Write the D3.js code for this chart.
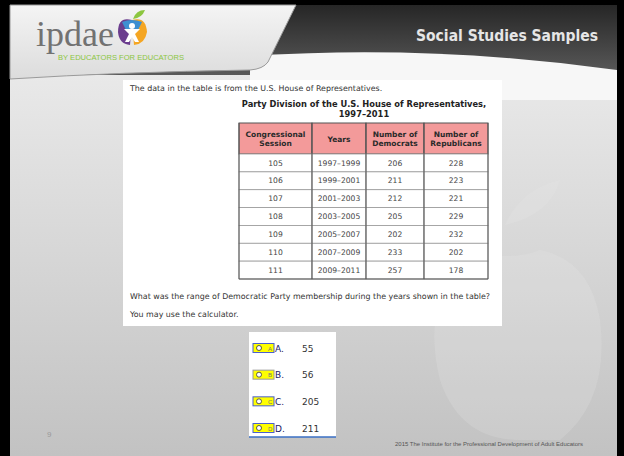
<!DOCTYPE html>
<html>
<head>
<meta charset="utf-8">
<script src="https://cdn.jsdelivr.net/npm/d3@7"></script>
<style>
  body { margin: 0; background: #000; }
  svg { display: block; }
</style>
</head>
<body>
<script>
"use strict"

// table data
let sessions = ["105", "106", "107", "108", "109", "110", "111"]
let years = ["1997–1999", "1999–2001", "2001–2003", "2003–2005", "2005–2007", "2007–2009", "2009–2011"]
let democrats = [206, 211, 212, 205, 202, 233, 257]
let republicans = [228, 223, 221, 229, 232, 202, 178]
let headers = [["Congressional", "Session"], ["Years"], ["Number of", "Democrats"], ["Number of", "Republicans"]]

// answer choices
let letters = ["A", "B", "C", "D"]
let answers = [55, 56, 205, 211]

let drawing = d3.select("body")
    .append("svg")
    .attr("width", 624)
    .attr("height", 456)

let defs = drawing.append("defs")

let bodyGrad = defs.append("linearGradient").attr("id", "bodyGrad")
    .attr("x1", 0).attr("y1", 0).attr("x2", 0).attr("y2", 1)
bodyGrad.append("stop").attr("offset", "0%").attr("stop-color", "#f0f0f0")
bodyGrad.append("stop").attr("offset", "100%").attr("stop-color", "#c2c2c2")

let darkGrad = defs.append("linearGradient").attr("id", "darkGrad")
    .attr("x1", 0).attr("y1", 0).attr("x2", 0).attr("y2", 1)
darkGrad.append("stop").attr("offset", "0%").attr("stop-color", "#262626")
darkGrad.append("stop").attr("offset", "100%").attr("stop-color", "#5a5a5a")

let lightGrad = defs.append("linearGradient").attr("id", "lightGrad")
    .attr("x1", 0).attr("y1", 0).attr("x2", 0).attr("y2", 1)
lightGrad.append("stop").attr("offset", "0%").attr("stop-color", "#f4f4f4")
lightGrad.append("stop").attr("offset", "100%").attr("stop-color", "#dcdcdc")

// slide background (black frame comes from body)
let slide = drawing.append("rect")
    .attr("x", 10).attr("y", 5)
    .attr("width", 607).attr("height", 451)
    .attr("fill", "url(#bodyGrad)")

// faint apple watermark lower right
let watermark = drawing.append("g").attr("opacity", 0.18).attr("fill", "#ececec")
watermark.append("path")
    .attr("d", "M470 250 Q420 300 440 380 Q460 440 520 440 L560 440 Q610 400 600 320 Q590 260 540 250 Q510 262 470 250 Z")
watermark.append("path")
    .attr("d", "M505 225 Q520 190 560 180 Q550 215 505 225 Z")

// header: dark band
let darkBand = drawing.append("rect")
    .attr("x", 10).attr("y", 5)
    .attr("width", 607).attr("height", 70)
    .attr("fill", "url(#darkGrad)")

let swoosh = drawing.append("path")
    .attr("d", "M250 56 Q430 44 617 70 L617 100 L250 100 Z")
    .attr("fill", "#f7f7f7")

// header: light left panel
let lightPanel = drawing.append("path")
    .attr("d", "M10 5 L296 5 L268 62 Q263 69 250 70 Q120 72 10 79 Z")
    .attr("fill", "url(#lightGrad)")
    .attr("stroke", "#9a9a9a")
    .attr("stroke-width", 1)

// logo
let logoText = drawing.append("text")
    .attr("x", 36).attr("y", 46)
    .attr("font-family", "Liberation Serif, serif")
    .attr("font-size", 36)
    .attr("fill", "#727272")
    .text("ipdae")

let apple = drawing.append("g").attr("transform", "translate(132,30)")
apple.append("path").attr("d", "M0 -10 Q-14 -14 -14 2 Q-13 14 -2 15 Z").attr("fill", "#6b3d8e")
apple.append("path").attr("d", "M0 -10 Q14 -14 15 2 Q13 14 2 15 Z").attr("fill", "#f5a623")
apple.append("path").attr("d", "M-10 -8 Q0 -12 10 -8 L6 0 L-6 0 Z").attr("fill", "#3d8fd1")
apple.append("path").attr("d", "M1 -11 Q4 -20 13 -20 Q10 -12 1 -11 Z").attr("fill", "#8cc63f")
apple.append("circle").attr("cx", 0).attr("cy", -4).attr("r", 3).attr("fill", "#ffffff")
apple.append("path").attr("d", "M-8 -1 L8 -1 L3 4 L7 12 L3 12 L0 7 L-3 12 L-7 12 L-3 4 Z").attr("fill", "#ffffff")

let tagline = drawing.append("text")
    .attr("x", 58).attr("y", 60)
    .attr("font-family", "Liberation Sans Narrow, Liberation Sans, sans-serif")
    .attr("font-size", 8)
    .attr("textLength", 126)
    .attr("lengthAdjust", "spacingAndGlyphs")
    .attr("fill", "#8cc63f")
    .text("BY EDUCATORS FOR EDUCATORS")

let headerTitle = drawing.append("text")
    .attr("x", 598).attr("y", 41)
    .attr("text-anchor", "end")
    .attr("font-family", "DejaVu Sans, sans-serif")
    .attr("font-weight", "bold")
    .attr("font-size", 15)
    .attr("textLength", 182)
    .attr("lengthAdjust", "spacingAndGlyphs")
    .attr("fill", "#e6e6e6")
    .text("Social Studies Samples")

// content box
let contentBox = drawing.append("rect")
    .attr("x", 123).attr("y", 80)
    .attr("width", 379).attr("height", 246)
    .attr("fill", "#ffffff")

let textFont = "DejaVu Sans, Verdana, sans-serif"

let intro = drawing.append("text")
    .attr("x", 130).attr("y", 91)
    .attr("font-family", textFont)
    .attr("font-size", 7.9)
    .attr("fill", "#333")
    .text("The data in the table is from the U.S. House of Representatives.")

let tableTitle = drawing.append("text")
    .attr("x", 364)
    .attr("text-anchor", "middle")
    .attr("font-family", textFont)
    .attr("font-weight", "bold")
    .attr("font-size", 8.3)
    .attr("fill", "#222")
tableTitle.append("tspan").attr("x", 364).attr("y", 107).text("Party Division of the U.S. House of Representatives,")
tableTitle.append("tspan").attr("x", 364).attr("y", 117).text("1997–2011")

// table layout
let colKeys = ["session", "years", "dem", "rep"]
let colEdges = [239, 312, 366, 424, 488]
let tableTop = 123
let headBottom = 154
let tableBottom = 279

let colScale = d3.scaleOrdinal().domain(colKeys).range(colEdges.slice(0, 4))
let colWidth = (k) => colEdges[colKeys.indexOf(k) + 1] - colEdges[colKeys.indexOf(k)]
let rowScale = d3.scaleBand().domain(sessions).range([headBottom, tableBottom])

let rows = sessions.map((s, i) => ({ session: s, years: years[i], dem: democrats[i], rep: republicans[i] }))

let table = drawing.append("g")

// header cells
table.selectAll(".head")
    .data(colKeys)
    .join("rect")
    .attr("x", (k) => colScale(k))
    .attr("y", tableTop)
    .attr("width", colWidth)
    .attr("height", headBottom - tableTop)
    .attr("fill", "#f39a9a")
    .attr("stroke", "#555")
    .attr("stroke-width", 1)

let headText = table.selectAll(".headText")
    .data(colKeys)
    .join("text")
    .attr("text-anchor", "middle")
    .attr("font-family", textFont)
    .attr("font-weight", "bold")
    .attr("font-size", 7.5)
    .attr("fill", "#2a2a2a")
headText.each(function (k, i) {
    let lines = headers[i]
    let cx = colScale(k) + colWidth(k) / 2
    let y0 = lines.length === 1 ? 141.5 : 136.5
    lines.forEach((l, j) => {
        d3.select(this).append("tspan").attr("x", cx).attr("y", y0 + j * 9.5).text(l)
    })
})

// body cells
let rowGroups = table.selectAll(".row")
    .data(rows)
    .join("g")

rowGroups.selectAll("rect")
    .data((d) => colKeys.map((k) => ({ k: k, d: d })))
    .join("rect")
    .attr("x", (c) => colScale(c.k))
    .attr("y", (c) => rowScale(c.d.session))
    .attr("width", (c) => colWidth(c.k))
    .attr("height", rowScale.bandwidth())
    .attr("fill", "#ffffff")
    .attr("stroke", "#9a9a9a")
    .attr("stroke-width", 0.8)

rowGroups.selectAll("text")
    .data((d) => colKeys.map((k) => ({ k: k, d: d })))
    .join("text")
    .attr("x", (c) => colScale(c.k) + colWidth(c.k) / 2)
    .attr("y", (c) => rowScale(c.d.session) + rowScale.bandwidth() / 2)
    .attr("dy", "0.35em")
    .attr("text-anchor", "middle")
    .attr("font-family", textFont)
    .attr("font-size", 7.6)
    .attr("fill", "#444")
    .text((c) => c.d[c.k])

// darker vertical lines and outline
table.selectAll(".vline")
    .data(colEdges)
    .join("line")
    .attr("x1", (x) => x).attr("x2", (x) => x)
    .attr("y1", tableTop).attr("y2", tableBottom)
    .attr("stroke", "#555")
    .attr("stroke-width", 1)
table.append("line")
    .attr("x1", colEdges[0]).attr("x2", colEdges[4])
    .attr("y1", tableBottom).attr("y2", tableBottom)
    .attr("stroke", "#555")

let question = drawing.append("text")
    .attr("x", 130).attr("y", 299)
    .attr("font-family", textFont)
    .attr("font-size", 7.9)
    .attr("fill", "#333")
    .text("What was the range of Democratic Party membership during the years shown in the table?")

let calcNote = drawing.append("text")
    .attr("x", 130).attr("y", 317)
    .attr("font-family", textFont)
    .attr("font-size", 7.9)
    .attr("fill", "#333")
    .text("You may use the calculator.")

// answer box
let answerBox = drawing.append("rect")
    .attr("x", 249).attr("y", 332)
    .attr("width", 87).attr("height", 105)
    .attr("fill", "#ffffff")
let answerLine = drawing.append("line")
    .attr("x1", 249).attr("x2", 336)
    .attr("y1", 437).attr("y2", 437)
    .attr("stroke", "#3a6fc4")
    .attr("stroke-width", 1.5)

let optScale = d3.scalePoint().domain(letters).range([348, 428])
let borderCols = ["#4a5fd0", "#999999", "#4a5fd0", "#4a5fd0"]

let options = drawing.selectAll(".opt")
    .data(letters)
    .join("g")
    .attr("transform", (l) => "translate(0," + optScale(l) + ")")

options.append("rect")
    .attr("x", 253).attr("y", -4.5)
    .attr("width", 21).attr("height", 9)
    .attr("fill", "#ffff00")
    .attr("stroke", (l, i) => borderCols[i])
    .attr("stroke-width", 1)
options.append("circle")
    .attr("cx", 259).attr("cy", 0).attr("r", 2.5)
    .attr("fill", "#ffffff")
    .attr("stroke", "#333")
    .attr("stroke-width", 0.8)
options.append("text")
    .attr("x", 268).attr("y", 2.5)
    .attr("font-family", "Liberation Sans, sans-serif")
    .attr("font-size", 6)
    .attr("fill", "#777")
    .text((l) => l)
options.append("text")
    .attr("x", 275).attr("y", 3.5)
    .attr("font-family", "DejaVu Sans, sans-serif")
    .attr("font-size", 9)
    .attr("fill", "#1a1a60")
    .text((l) => l + ".")
options.append("text")
    .attr("x", 302).attr("y", 3.5)
    .attr("font-family", "DejaVu Sans, sans-serif")
    .attr("font-size", 9)
    .attr("fill", "#333")
    .text((l, i) => answers[i])

// footer
let pageNum = drawing.append("text")
    .attr("x", 47).attr("y", 437)
    .attr("font-family", "Liberation Sans, sans-serif")
    .attr("font-size", 8)
    .attr("fill", "#9a9a9a")
    .text("9")

let footer = drawing.append("text")
    .attr("x", 395).attr("y", 446)
    .attr("font-family", "Liberation Sans, sans-serif")
    .attr("font-size", 4.5)
    .attr("textLength", 188)
    .attr("lengthAdjust", "spacingAndGlyphs")
    .attr("fill", "#555")
    .text("2015 The  Institute for the Professional Development of Adult Educators")
</script>
</body>
</html>
